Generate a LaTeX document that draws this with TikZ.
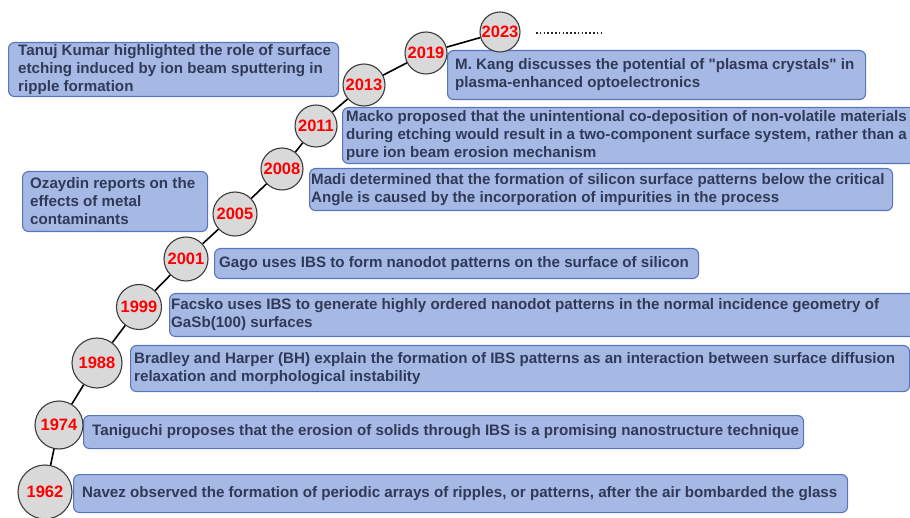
\documentclass[tikz,border=0pt]{standalone}
\usepackage{fontspec}
\setmainfont{Liberation Sans}[Ligatures=TeXOff]
\definecolor{boxfill}{RGB}{166,185,228}
\definecolor{boxline}{RGB}{88,116,190}
\definecolor{txt}{RGB}{48,58,88}
\definecolor{circfill}{RGB}{217,217,217}
\definecolor{circline}{RGB}{60,60,60}
\definecolor{yr}{RGB}{255,0,0}
\tikzset{
  evtbox/.style={draw=boxline, fill=boxfill, line width=1.1pt, rounded corners=6pt, inner sep=0pt, anchor=north west},
  evttext/.style={align=left, inner sep=0pt, anchor=west, text=txt, font=\fontsize{15.15}{18}\selectfont\bfseries},
  yearnode/.style={circle, draw=circline, fill=circfill, line width=1.1pt, inner sep=0pt, text=yr, font=\fontsize{16.5}{18}\selectfont\bfseries},
  link/.style={line width=1.6pt, black},
}
\begin{document}
\begin{tikzpicture}[x=1pt,y=-1pt]
\useasboundingbox (0,0) rectangle (910,518);
% event boxes
\node[evtbox, minimum width=330pt, minimum height=54pt] (bTanuj) at (8,42) {};
\node[evttext] (tTanuj) at ([xshift=10pt]bTanuj.west) {Tanuj Kumar highlighted the role of surface\\etching induced by ion beam sputtering in\\ripple formation};
\node[evtbox, minimum width=418pt, minimum height=49pt] (bKang) at (447,50) {};
\node[evttext] (tKang) at ([xshift=8pt]bKang.west) {M. Kang discusses the potential of "plasma crystals" in\\plasma-enhanced optoelectronics};
\node[evtbox, minimum width=580pt, minimum height=56pt] (bMacko) at (342,107) {};
\node[evttext] (tMacko) at ([xshift=4pt]bMacko.west) {Macko proposed that the unintentional co-deposition of non-volatile materials\\during etching would result in a two-component surface system, rather than a\\pure ion beam erosion mechanism};
\node[evtbox, minimum width=583pt, minimum height=42pt] (bMadi) at (309,168) {};
\node[evttext] (tMadi) at ([xshift=2pt]bMadi.west) {Madi determined that the formation of silicon surface patterns below the critical\\Angle is caused by the incorporation of impurities in the process};
\node[evtbox, minimum width=185pt, minimum height=60pt] (bOzay) at (22,171) {};
\node[evttext] (tOzay) at ([xshift=8pt]bOzay.west) {Ozaydin reports on the\\effects of metal\\contaminants};
\node[evtbox, minimum width=484pt, minimum height=30pt] (bGago) at (214,248) {};
\node[evttext] (tGago) at ([xshift=5pt]bGago.west) {Gago uses IBS to form nanodot patterns on the surface of silicon};
\node[evtbox, minimum width=750pt, minimum height=43pt] (bFacsko) at (169,293) {};
\node[evttext] (tFacsko) at ([xshift=2pt]bFacsko.west) {Facsko uses IBS to generate highly ordered nanodot patterns in the normal incidence geometry of\\GaSb(100) surfaces};
\node[evtbox, minimum width=779pt, minimum height=46pt] (bBradley) at (130,345) {};
\node[evttext] (tBradley) at ([xshift=4pt]bBradley.west) {Bradley and Harper (BH) explain the formation of IBS patterns as an interaction between surface diffusion\\relaxation and morphological instability};
\node[evtbox, minimum width=720pt, minimum height=33pt] (bTani) at (83,415) {};
\node[evttext] (tTani) at ([xshift=9pt]bTani.west) {Taniguchi proposes that the erosion of solids through IBS is a promising nanostructure technique};
\node[evtbox, minimum width=774pt, minimum height=38pt] (bNavez) at (73,474) {};
\node[evttext] (tNavez) at ([xshift=9pt]bNavez.west) {Navez observed the formation of periodic arrays of ripples, or patterns, after the air bombarded the glass};
% year circles
\node[yearnode, minimum size=54pt] (y1962) at (45,492) {\raisebox{-1.5pt}{1962}};
\node[yearnode, minimum size=48pt] (y1974) at (59,425) {\raisebox{-1.5pt}{1974}};
\node[yearnode, minimum size=50pt] (y1988) at (97,363) {\raisebox{-1.5pt}{1988}};
\node[yearnode, minimum size=45pt] (y1999) at (139,307) {\raisebox{-1.5pt}{1999}};
\node[yearnode, minimum size=44pt] (y2001) at (186,259) {\raisebox{-1.5pt}{2001}};
\node[yearnode, minimum size=44pt] (y2005) at (235,214) {\raisebox{-1.5pt}{2005}};
\node[yearnode, minimum size=42pt] (y2008) at (282,169) {\raisebox{-1.5pt}{2008}};
\node[yearnode, minimum size=42pt] (y2011) at (316,126) {\raisebox{-1.5pt}{2011}};
\node[yearnode, minimum size=42pt] (y2013) at (364,85) {\raisebox{-1.5pt}{2013}};
\node[yearnode, minimum size=42pt] (y2019) at (426,53) {\raisebox{-1.5pt}{2019}};
\node[yearnode, minimum size=40pt] (y2023) at (500,32) {\raisebox{-1.5pt}{2023}};
% connectors
\draw[link] (y1962) -- (y1974);
\draw[link] (y1974) -- (y1988);
\draw[link] (y1988) -- (y1999);
\draw[link] (y1999) -- (y2001);
\draw[link] (y2001) -- (y2005);
\draw[link] (y2005) -- (y2008);
\draw[link] (y2008) -- (y2011);
\draw[link] (y2011) -- (y2013);
\draw[link] (y2013) -- (y2019);
\draw[link] (y2019) -- (y2023);
% continuation dots
\coordinate (dotsA) at (536,33);
\coordinate (dotsB) at (604,33);
\draw[line width=1.8pt, dash pattern=on 1.6pt off 2.2pt, color=black!85] (dotsA) -- (dotsB);
\end{tikzpicture}
\end{document}
